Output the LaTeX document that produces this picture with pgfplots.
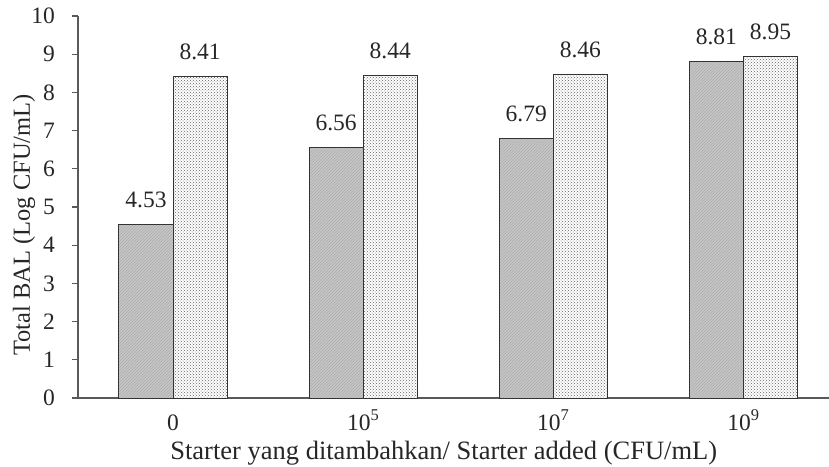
\documentclass[border=0pt]{standalone}
\usepackage{pgfplots}
\pgfplotsset{compat=1.18}
\usepackage{fontspec}
\setmainfont{Liberation Serif}
\usetikzlibrary{patterns}
\begin{document}
\begin{tikzpicture}
\begin{axis}[
  name=ax,
  scale only axis, width=751pt, height=382pt,
  xmin=-0.5, xmax=3.45, ymin=0, ymax=10,
  axis x line*=bottom, axis y line*=left,
  axis line style={-, draw=black!65, line width=1.2pt},
  ytick={0,1,...,10},
  xtick={0,1,2,3},
  xticklabels={0,10\textsuperscript{5},10\textsuperscript{7},10\textsuperscript{9}},
  x tick style={draw=none},
  y tick style={draw=black!65, line width=1.2pt},
  tick align=outside, major tick length=6pt,
  ticklabel style={font=\fontsize{23.5}{28}\selectfont, text=black!85},
  yticklabel style={inner sep=0pt, anchor=east, xshift=-17pt},
  xticklabel style={inner sep=0pt, anchor=base, yshift=-26pt},
  /pgf/number format/assume math mode=true,
  ylabel={Total BAL (Log CFU/mL)},
  xlabel={Starter yang ditambahkan/ Starter added (CFU/mL)},
  ylabel style={font=\fontsize{24.5}{29}\selectfont, text=black!85, at={(axis description cs:-0.0719,0.453)}, anchor=center},
  xlabel style={font=\fontsize{26.5}{31}\selectfont, text=black!85, at={(axis description cs:0.487,-0.160)}, anchor=base, inner sep=0pt},
  ybar, bar width=0.285,
  nodes near coords,
  every node near coord/.append style={font=\fontsize{23.5}{28}\selectfont, text=black!85, /pgf/number format/fixed, /pgf/number format/fixed zerofill, /pgf/number format/precision=2, /pgf/number format/assume math mode=true, anchor=base, inner sep=0pt, yshift=17pt},
  clip=false,
]
\addplot[bar shift=-0.1425, draw=black!80, line width=1pt, fill=black!22, postaction={pattern=north east lines, pattern color=black!32}]
  coordinates {(0,4.53) (1,6.56) (2,6.79) (3,8.81)};
\addplot[bar shift=0.1425, draw=black!80, line width=1pt, fill=white, postaction={pattern=crosshatch dots, pattern color=black!62}]
  coordinates {(0,8.41) (1,8.44) (2,8.46) (3,8.95)};
\end{axis}
\pgfresetboundingbox
\path[use as bounding box] ([xshift=-78pt,yshift=-68pt]ax.south west) rectangle ([yshift=16pt]ax.north east);
\end{tikzpicture}
\end{document}
